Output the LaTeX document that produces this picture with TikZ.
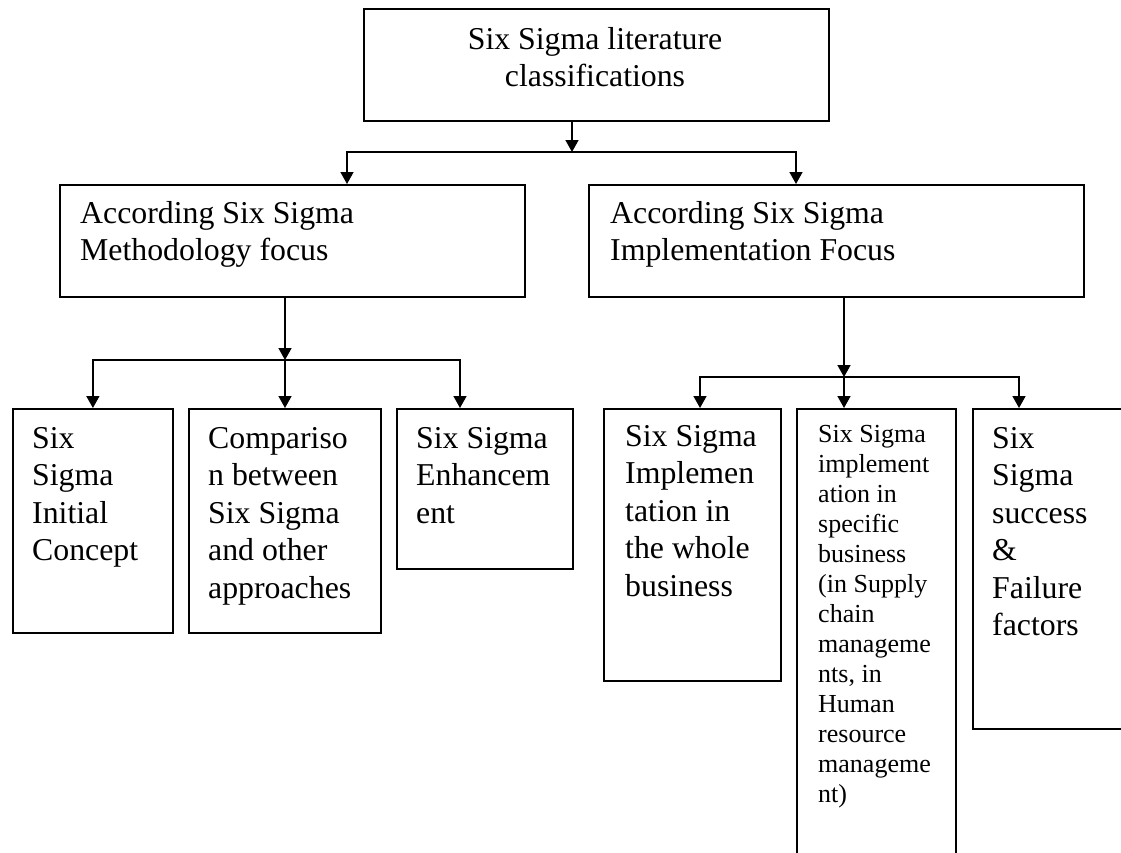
\documentclass[tikz,border=0pt]{standalone}
\usepackage{fontspec}
\setmainfont{Liberation Serif}
\usetikzlibrary{arrows.meta, positioning}

\begin{document}
\begin{tikzpicture}[x=1pt, y=-1pt,
    box/.style={draw, line width=1.8pt, anchor=north west, inner sep=0pt},
    txt/.style={anchor=north west, inner sep=0pt, align=left, font=\fontsize{31.8}{37.4}\selectfont},
    small/.style={txt, font=\fontsize{26}{30}\selectfont},
    arr/.style={line width=1.6pt, -{Triangle[width=13pt, length=12pt]}}]
    % Fix the frame of the picture
    \useasboundingbox (0,0) rectangle (1121,852);

    % Draw the boxes
    \node[box, minimum width=465pt, minimum height=112pt] (top) at (363,8) {};
    \node[box, minimum width=465pt, minimum height=112pt] (mth) at (59,184) {};
    \node[box, minimum width=495pt, minimum height=112pt] (imp) at (588,184) {};
    \node[box, minimum width=160pt, minimum height=224pt] (c1) at (12,408) {};
    \node[box, minimum width=192pt, minimum height=224pt] (c2) at (188,408) {};
    \node[box, minimum width=176pt, minimum height=160pt] (c3) at (396,408) {};
    \node[box, minimum width=177pt, minimum height=272pt] (c4) at (603,408) {};
    \node[box, minimum width=159pt, minimum height=480pt] (c5) at (796,408) {};
    \node[box, minimum width=180pt, minimum height=320pt] (c6) at (972,408) {};

    % Label the boxes
    \node[txt, anchor=north, align=center] (ttop) at (595,27.3) {Six Sigma literature\\classifications};
    \node[txt] (tmth) at ([shift={(21,17.3)}]mth.north west) {According Six Sigma\\Methodology focus};
    \node[txt] (timp) at ([shift={(22,17.3)}]imp.north west) {According Six Sigma\\Implementation Focus};
    \node[txt] (tc1) at ([shift={(20,19.3)}]c1.north west) {Six\\Sigma\\Initial\\Concept};
    \node[txt] (tc2) at ([shift={(20,19.3)}]c2.north west) {Compariso\\n between\\Six Sigma\\and other\\approaches};
    \node[txt] (tc3) at ([shift={(20,19.3)}]c3.north west) {Six Sigma\\Enhancem\\ent};
    \node[txt] (tc4) at ([shift={(22,17.3)}]c4.north west) {Six Sigma\\Implemen\\tation in\\the whole\\business};
    \node[small] (tc5) at ([shift={(22,17.2)}]c5.north west) {Six Sigma\\implement\\ation in\\specific\\business\\(in Supply\\chain\\manageme\\nts, in\\Human\\resource\\manageme\\nt)};
    \node[txt] (tc6) at ([shift={(20,19.3)}]c6.north west) {Six\\Sigma\\success\\\&\\Failure\\factors};

    % Top level arrows
    \coordinate (j0) at (572,152);
    \draw[arr] (top.south -| j0) -- (j0);
    \draw[arr] (j0) -| ([xshift=288pt]mth.north west);
    \draw[arr] (j0) -| ([xshift=208pt]imp.north west);

    % Methodology branch
    \coordinate (j1) at (285,360);
    \draw[arr] (mth.south -| j1) -- (j1);
    \draw[arr] (j1) -| (c1.north);
    \draw[arr] (j1) -- (j1 |- c2.north);
    \draw[arr] (j1) -| ([xshift=64pt]c3.north west);

    % Implementation branch
    \coordinate (j2) at (844,377);
    \draw[arr] (imp.south -| j2) -- (j2);
    \draw[arr] (j2) -| ([xshift=97pt]c4.north west);
    \draw[arr] (j2) -- (j2 |- c5.north);
    \draw[arr] (j2) -| ([xshift=47pt]c6.north west);
\end{tikzpicture}
\end{document}
